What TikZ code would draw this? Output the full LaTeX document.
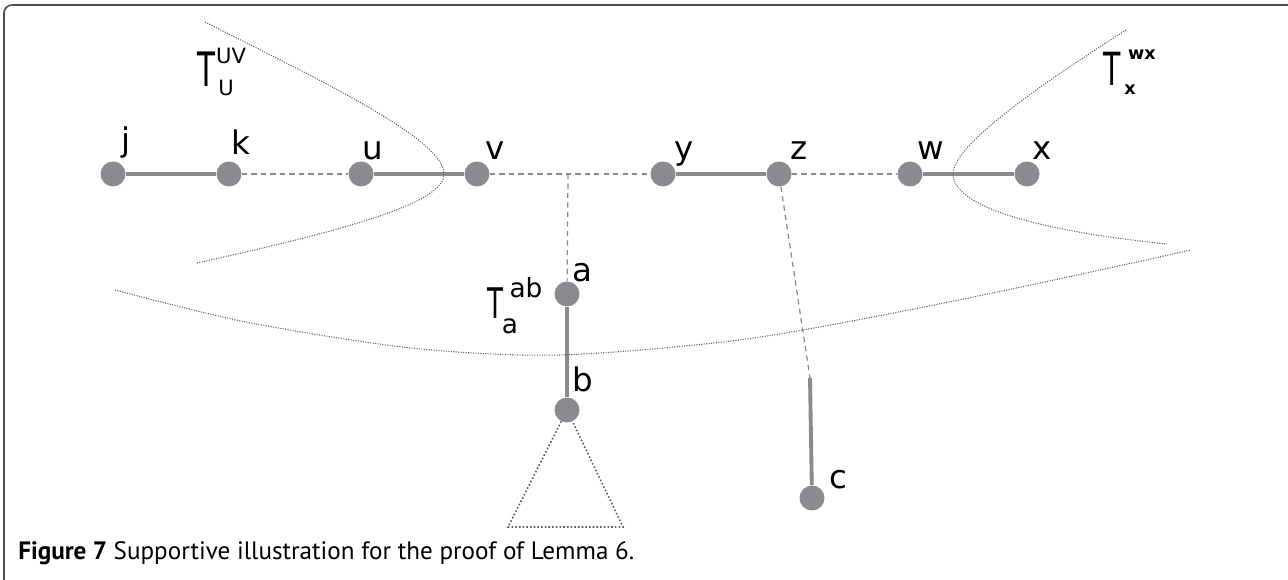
\documentclass[tikz,border=0pt]{standalone}
\usepackage{fontspec}
\setmainfont{DejaVu Sans}
\newfontfamily\capfont{PT Sans}
\usetikzlibrary{calc}

\definecolor{vertgray}{RGB}{138,139,142}
\definecolor{dotgray}{RGB}{95,95,98}

\newcommand{\thinT}[0]{\scalebox{0.62}[1]{T}}

\begin{document}
\begin{tikzpicture}[x=0.02cm, y=-0.02cm]
    \tikzstyle{vertex} = [
      circle,
      fill=vertgray,
      inner sep=0pt,
      minimum size=0.5cm,
    ]
    \tikzstyle{treeline} = [
      line width=2.2pt,
      draw=vertgray,
    ]
    \tikzstyle{chainline} = [
      line width=0.7pt,
      draw=vertgray,
      dash pattern=on 3pt off 2.4pt,
    ]
    \tikzstyle{region} = [
      line width=0.6pt,
      draw=dotgray,
      dash pattern=on 0.6pt off 0.8pt,
    ]
    \tikzstyle{lbl} = [
      anchor=base,
      inner sep=0pt,
      font=\fontsize{18.5}{18.5}\selectfont,
    ]
    \tikzstyle{small} = [
      anchor=center,
      inner sep=0pt,
    ]

    \useasboundingbox (0,0) rectangle (1288,580);

    % frame
    {
      \draw[gray!60!black, line width=0.9pt, rounded corners=0.16cm] (4,580) -- (4,5) -- (1288,5);
    }

    % vertices on the spine
    {
      \node[vertex] (vertJ) at (113,174) {};
      \node[vertex] (vertK) at (229,174) {};
      \node[vertex] (vertU) at (361,174) {};
      \node[vertex] (vertV) at (477,174) {};
      \node[vertex] (vertY) at (663,174) {};
      \node[vertex] (vertZ) at (779,174) {};
      \node[vertex] (vertW) at (910,174) {};
      \node[vertex] (vertX) at (1027,174) {};
    }

    % vertices below
    {
      \node[vertex] (vertA) at (567,294) {};
      \node[vertex] (vertB) at (567,410) {};
      \node[vertex] (vertC) at (812,498) {};
      \coordinate (vaJoint) at (568,174);
      \coordinate (cTop) at (810,378);
      \coordinate (triLeft) at (508,527);
      \coordinate (triRight) at (623,527);
    }

    % edges
    {
      \draw[treeline] (vertJ) -- (vertK);
      \draw[treeline] (vertU) -- (vertV);
      \draw[treeline] (vertY) -- (vertZ);
      \draw[treeline] (vertW) -- (vertX);
      \draw[treeline] (vertA) -- (vertB);
      \draw[treeline] (cTop) -- (vertC);

      \draw[chainline] (vertK) -- (vertU);
      \draw[chainline] (vertV) -- (vertY);
      \draw[chainline] (vertZ) -- (vertW);
      \draw[chainline] (vaJoint) -- (vertA);
      \draw[chainline] (vertZ) -- (cTop);
    }

    % labels
    {
      \node[lbl] (lblJ) at (126,152) {j};
      \node[lbl] (lblK) at (241,155) {k};
      \node[lbl] (lblU) at (373,160) {u};
      \node[lbl] (lblV) at (495,160) {v};
      \node[lbl] (lblY) at (684,160) {y};
      \node[lbl] (lblZ) at (799,160) {z};
      \node[lbl] (lblW) at (931,160) {w};
      \node[lbl] (lblX) at (1042,160) {x};
      \node[lbl] (lblA) at (582,282) {a};
      \node[lbl] (lblB) at (583,392) {b};
      \node[lbl] (lblC) at (838,489) {c};
    }

    % subtrees
    {
      \draw[region] (205,22) .. controls (330,85) and (444,140) .. (444,174)
        .. controls (444,200) and (370,225) .. (197,263);
      \draw[region] (1126,30) .. controls (1040,85) and (953,145) .. (953,174)
        .. controls (953,205) and (1030,230) .. (1167,244);
      \draw[region] plot[smooth] coordinates {(115,290) (246,322) (411,348) (559,355) (739,340) (904,311) (1068,277) (1191,250)};
      \draw[region, line width=0.9pt, dash pattern=on 0.9pt off 1.2pt] (vertB) -- (triLeft) -- (triRight) -- (vertB);
    }

    % subtree names
    {
      \node[small, font=\fontsize{27}{27}\selectfont] (tuvT) at (206.5,69.5) {\thinT};
      \node[small, font=\fontsize{12}{12}\selectfont] (tuvSup) at (231,55.5) {UV};
      \node[small, font=\fontsize{12}{12}\selectfont] (tuvSub) at (226,88) {U};

      \node[small, font=\fontsize{26}{26}\selectfont] (twxT) at (1112,68.5) {\thinT};
      \node[small, font=\fontsize{10}{10}\selectfont\bfseries] (twxSup) at (1142,55) {wx};
      \node[small, font=\fontsize{10}{10}\selectfont\bfseries] (twxSub) at (1130,89.5) {x};

      \node[small, font=\fontsize{24}{24}\selectfont] (tabT) at (495,303) {\thinT};
      \node[small, font=\fontsize{15}{15}\selectfont] (tabSup) at (526,288) {ab};
      \node[small, font=\fontsize{15}{15}\selectfont] (tabSub) at (510,326) {a};
    }

    % caption
    {
      \node[anchor=base west, inner sep=0pt, font=\capfont\fontsize{14.3}{16}\selectfont] (caption) at (18,560)
        {\textbf{Figure 7} Supportive illustration for the proof of Lemma 6.};
    }
\end{tikzpicture}
\end{document}
